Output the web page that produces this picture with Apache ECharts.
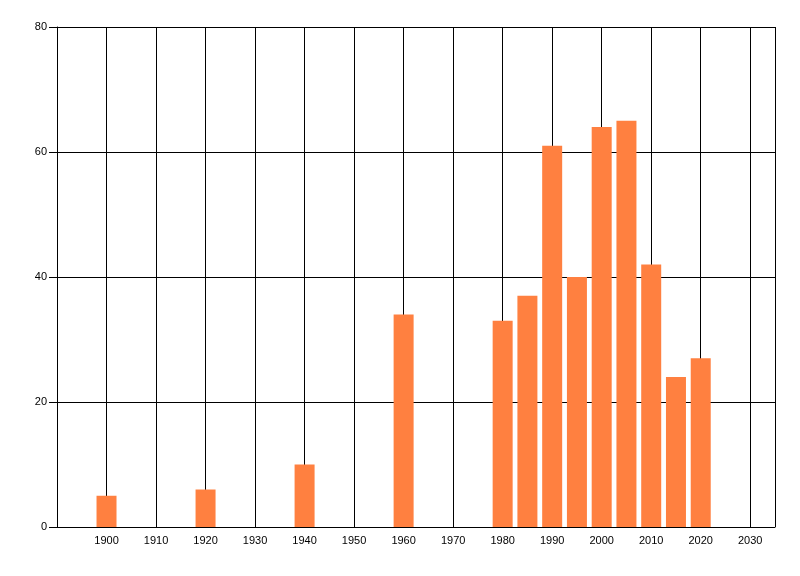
<!DOCTYPE html>
<html>
<head>
<meta charset="utf-8">
<script src="https://cdn.jsdelivr.net/npm/echarts@6/dist/echarts.min.js"></script>
<style>html,body{margin:0;padding:0;background:#fff;}#c{width:800px;height:576px;}</style>
</head>
<body>
<div id="c"></div>
<script>
var years = [1900, 1920, 1940, 1960, 1980, 1985, 1990, 1995, 2000, 2005, 2010, 2015, 2020];
var counts = [5, 6, 10, 34, 33, 37, 61, 40, 64, 65, 42, 24, 27];
var xMin = 1890, xMax = 2035, xStep = 10;
var yMin = 0, yMax = 80, yStep = 20;

var data = years.map(function (y, i) { return [y, counts[i]]; });
var chart = echarts.init(document.getElementById('c'), null, { renderer: 'canvas' });
var font = { fontFamily: 'Liberation Sans', fontSize: 11, color: '#000' };
chart.setOption({
  animation: false,
  backgroundColor: '#fff',
  grid: { left: 57, right: 25, top: 27, bottom: 49 },
  xAxis: {
    type: 'value', min: xMin, max: xMax, interval: xStep,
    axisLine: { show: true, lineStyle: { color: '#000', width: 1 } },
    axisTick: { show: false },
    splitLine: { show: true, lineStyle: { color: '#000', width: 1 } },
    axisLabel: Object.assign({ margin: 8, showMaxLabel: false, formatter: function (v) { return (v === xMin || v === xMax) ? '' : String(v); } }, font)
  },
  yAxis: {
    type: 'value', min: yMin, max: yMax, interval: yStep,
    axisLine: { show: true, lineStyle: { color: '#000', width: 1 } },
    axisTick: { show: true, length: 8, lineStyle: { color: '#000' } },
    splitLine: { show: true, lineStyle: { color: '#000', width: 1 } },
    axisLabel: Object.assign({ margin: 10 }, font)
  },
  series: [{
    type: 'bar',
    data: data,
    barWidth: 20,
    itemStyle: { color: '#ff8040' }
  }]
});
</script>
</body>
</html>
